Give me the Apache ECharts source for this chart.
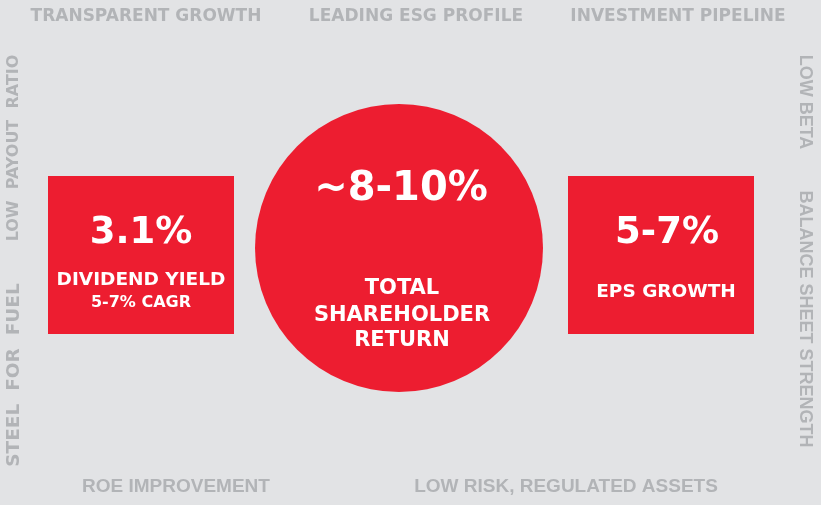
<!DOCTYPE html>
<html>
<head>
<meta charset="utf-8">
<script src="https://cdn.jsdelivr.net/npm/echarts@6/dist/echarts.min.js"></script>
<style>
html,body{margin:0;padding:0;background:#E2E3E5;}
#chart{width:821px;height:505px;}
</style>
</head>
<body>
<div id="chart"></div>
<script>
// ---- content ----
const topLabels = ['TRANSPARENT GROWTH', 'LEADING ESG PROFILE', 'INVESTMENT PIPELINE'];
const bottomLabels = ['ROE IMPROVEMENT', 'LOW RISK, REGULATED ASSETS'];
const leftLabels = ['LOW  PAYOUT  RATIO', 'STEEL  FOR  FUEL'];
const rightLabels = ['LOW BETA', 'BALANCE SHEET STRENGTH'];
const metricValues = ['3.1%', '~8-10%', '5-7%'];
const metricLabels = [['DIVIDEND YIELD'], ['TOTAL', 'SHAREHOLDER', 'RETURN'], ['EPS GROWTH']];
const metricNotes = ['5-7% CAGR', '', ''];

// ---- layout / style ----
const RED = '#ED1D30';
const GREY = '#B2B4B7';
const BG = '#E2E3E5';
const topX = [146, 416, 678], topY = 17;
const bottomX = [176, 566], bottomY = 487;
const leftY = [148, 375], leftX = 14, leftSize = [16, 18.5];
const rightY = [102, 319], rightX = 805;

const chart = echarts.init(document.getElementById('chart'), null, {renderer: 'canvas'});
const g = [];
function txt(s, x, y, size, family, color, rot) {
  g.push({
    type: 'text', x: x, y: y, rotation: rot || 0, z: 10,
    style: {
      text: s, fill: color, font: 'bold ' + size + 'px ' + family,
      textAlign: 'center', textVerticalAlign: 'middle'
    }
  });
}
topLabels.forEach((s, i) => txt(s, topX[i], topY, 17, '"DejaVu Sans"', GREY));
bottomLabels.forEach((s, i) => txt(s, bottomX[i], bottomY, 19, '"Liberation Sans"', GREY));
leftLabels.forEach((s, i) => txt(s, leftX, leftY[i], leftSize[i], '"DejaVu Sans"', GREY, Math.PI / 2));
rightLabels.forEach((s, i) => txt(s, rightX, rightY[i], 18, '"Liberation Sans"', GREY, -Math.PI / 2));

// shapes
g.push({type: 'rect', shape: {x: 48, y: 176, width: 186, height: 158}, style: {fill: RED}, z: 1});
g.push({type: 'rect', shape: {x: 568, y: 176, width: 186, height: 158}, style: {fill: RED}, z: 1});
g.push({type: 'circle', shape: {cx: 399, cy: 248, r: 144}, style: {fill: RED}, z: 1});

const F = '"DejaVu Sans"';
// left box
txt(metricValues[0], 141, 233, 37, F, '#fff');
txt(metricLabels[0][0], 141, 280, 18.5, F, '#fff');
txt(metricNotes[0], 141, 303, 16, F, '#fff');
// circle
txt(metricValues[1], 401, 190, 40, F, '#fff');
const cy = [289, 316, 341];
metricLabels[1].forEach((s, i) => txt(s, 402, cy[i], 21, F, '#fff'));
// right box
txt(metricValues[2], 667, 233, 37, F, '#fff');
txt(metricLabels[2][0], 666, 292, 18.5, F, '#fff');

chart.setOption({
  backgroundColor: BG,
  animation: false,
  graphic: {elements: g}
});
</script>
</body>
</html>
